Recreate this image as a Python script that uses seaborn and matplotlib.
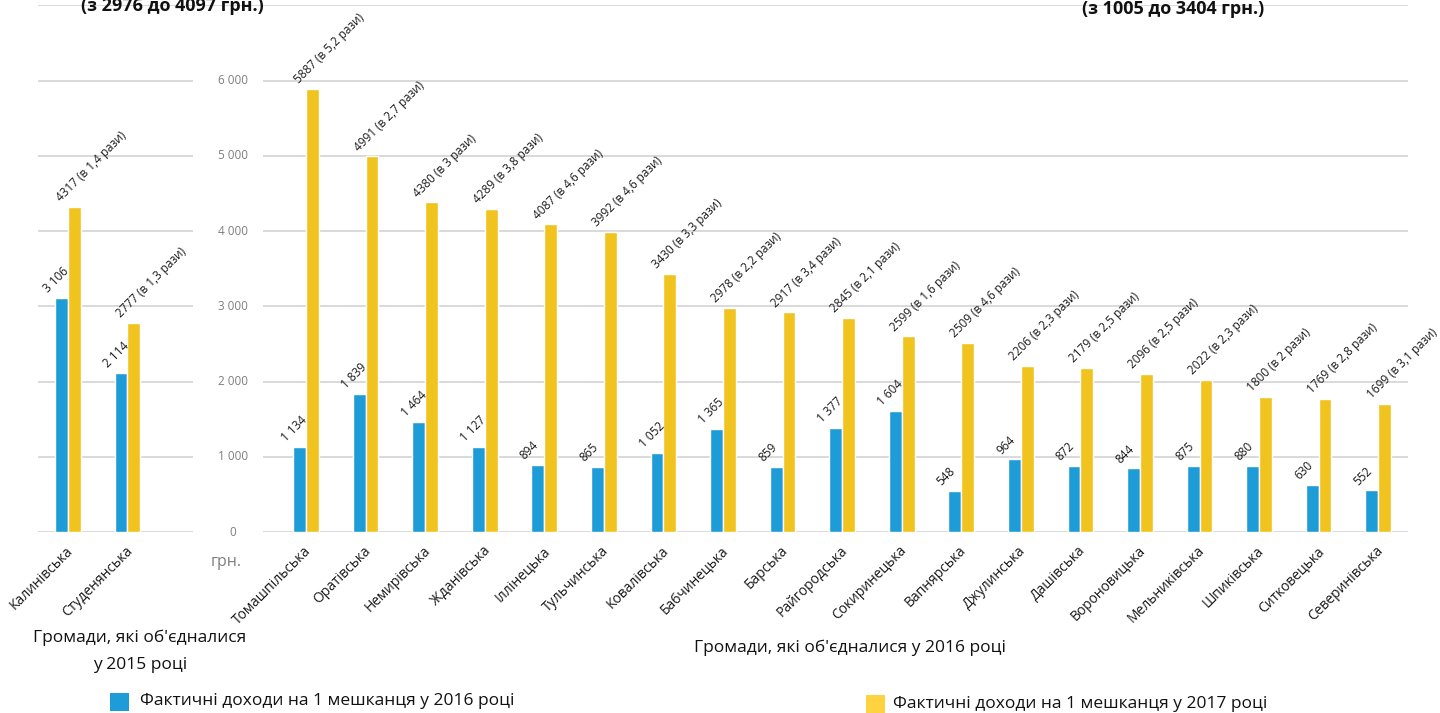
import matplotlib
matplotlib.use('Agg')
import matplotlib.pyplot as plt
import matplotlib.transforms as mtransforms
from matplotlib.patches import Rectangle
import seaborn as sns
import pandas as pd

# громади, які об'єдналися у 2015 та 2016 роках
names_2015 = ['Калинівська', 'Студенянська']
names_2016 = ['Томашпільська', 'Оратівська', 'Немирівська', 'Жданівська', 'Іллінецька',
              'Тульчинська', 'Ковалівська', 'Бабчинецька', 'Барська', 'Райгородська',
              'Сокиринецька', 'Вапнярська', 'Джулинська', 'Дашівська', 'Вороновицька',
              'Мельниківська', 'Шпиківська', 'Ситковецька', 'Северинівська']

# фактичні доходи на 1 мешканця, грн.
income_2016 = [3106, 2114,
               1134, 1839, 1464, 1127, 894, 865, 1052, 1365, 859, 1377,
               1604, 548, 964, 872, 844, 875, 880, 630, 552]
income_2017 = [4317, 2777,
               5887, 4991, 4380, 4289, 4087, 3992, 3430, 2978, 2917, 2845,
               2599, 2509, 2206, 2179, 2096, 2022, 1800, 1769, 1699]
growth = ['1,4', '1,3',
          '5,2', '2,7', '3', '3,8', '4,6', '4,6', '3,3', '2,2', '3,4', '2,1',
          '1,6', '4,6', '2,3', '2,5', '2,5', '2,3', '2', '2,8', '3,1']

y_ticks = [0, 1000, 2000, 3000, 4000, 5000, 6000]

series_2016 = 'Фактичні доходи на 1 мешканця у 2016 році'
series_2017 = 'Фактичні доходи на 1 мешканця у 2017 році'

blue = '#1E9CD7'
yellow = '#F0C31E'
yellow_legend = '#FFD23F'

names = names_2015 + names_2016
df = pd.DataFrame({
    'community': names * 2,
    'value': income_2016 + income_2017,
    'year': [series_2016] * len(names) + [series_2017] * len(names),
})
# два порожні місця між групами громад
order = names_2015 + [' ', '  '] + names_2016

sns.set_style('white')
plt.rcParams['font.family'] = ['Open Sans', 'DejaVu Sans']

W, H = 1440, 713
fig = plt.figure(figsize=(W / 100, H / 100), dpi=100)
ax = fig.add_axes([38 / W, 1 - 532 / H, 1370 / W, 527.5 / H])

sns.barplot(data=df, x='community', y='value', hue='year', order=order,
            hue_order=[series_2016, series_2017], palette=[blue, yellow],
            saturation=1, width=0.43, ax=ax, legend=False, zorder=3)

ax.set_xlim(-0.5, len(order) - 0.5)
ax.set_ylim(0, 7010)
ax.set_yticks(y_ticks + [7000])
ax.yaxis.grid(True, color='#D9D9D9', linewidth=1.4)
ax.set_axisbelow(True)
ax.tick_params(axis='y', labelleft=False, length=0)
ax.tick_params(axis='x', length=0, pad=12)
for s in ax.spines.values():
    s.set_visible(False)
ax.set_xlabel('')
ax.set_ylabel('')

# підписи громад під кутом
shift = mtransforms.ScaledTranslation(3 / 100, 0, fig.dpi_scale_trans)
for lab in ax.get_xticklabels():
    lab.set_rotation(45)
    lab.set_ha('right')
    lab.set_va('center')
    lab.set_rotation_mode('anchor')
    lab.set_fontsize(10)
    lab.set_color('#1A1A1A')
    lab.set_transform(lab.get_transform() + shift)

# вісь значень посередині, між групами
ax.add_patch(Rectangle((2.10, -60), 1.18, 6400, facecolor='white',
                       edgecolor='none', zorder=1, clip_on=False))
for v in y_ticks:
    ax.text(2.77, v, f'{v:,}'.replace(',', ' '), ha='center', va='center',
            fontsize=8.5, color='#7F7F7F', zorder=2)
ax.text(2.66, -400, 'грн.', ha='center', va='center', fontsize=11.5,
        color='#7F7F7F', clip_on=False)

# підписи значень над стовпчиками
for k, cont in enumerate(ax.containers):
    for p in cont.patches:
        h = p.get_height()
        if not h == h or h == 0:
            continue
        idx = int(round(p.get_x() + p.get_width() / 2))
        j = names.index(order[idx])
        if k == 0:
            txt = f'{income_2016[j]:,}'.replace(',', ' ')
        else:
            txt = f'{income_2017[j]} (в {growth[j]} рази)'
        ax.annotate(txt, xy=(p.get_x() + p.get_width() / 2, h),
                    xytext=(-8, 2), textcoords='offset points',
                    rotation=45, rotation_mode='anchor', ha='left', va='bottom',
                    fontsize=8.5, color='#1A1A1A', zorder=4)

# заголовки (обрізані зверху, як в оригіналі)
fig.text(172 / W, 1 - 11 / H, '(з 2976 до 4097 грн.)', ha='center', va='baseline',
         fontsize=13, fontweight='bold', color='#111111')
fig.text(1173 / W, 1 - 14 / H, '(з 1005 до 3404 грн.)', ha='center', va='baseline',
         fontsize=13, fontweight='bold', color='#111111')

# назви груп
fig.text(140 / W, 1 - 638 / H, "Громади, які об'єдналися", ha='center', va='center',
         fontsize=12.5, color='#111111')
fig.text(140 / W, 1 - 665 / H, 'у 2015 році', ha='center', va='center',
         fontsize=12.5, color='#111111')
fig.text(850 / W, 1 - 648 / H, "Громади, які об'єдналися у 2016 році", ha='center',
         va='center', fontsize=12.5, color='#111111')

# легенда
fig.add_artist(Rectangle((110 / W, 1 - 711 / H), 19 / W, 18 / H, facecolor=blue,
                         edgecolor='none', transform=fig.transFigure))
fig.text(140 / W, 1 - 701 / H, series_2016, ha='left', va='center',
         fontsize=12.5, color='#111111')
fig.add_artist(Rectangle((866 / W, 1 - 713 / H), 19 / W, 18 / H, facecolor=yellow_legend,
                         edgecolor='none', transform=fig.transFigure))
fig.text(893 / W, 1 - 704 / H, series_2017, ha='left', va='center',
         fontsize=12.5, color='#111111')

fig.savefig('out.png', dpi=100)
